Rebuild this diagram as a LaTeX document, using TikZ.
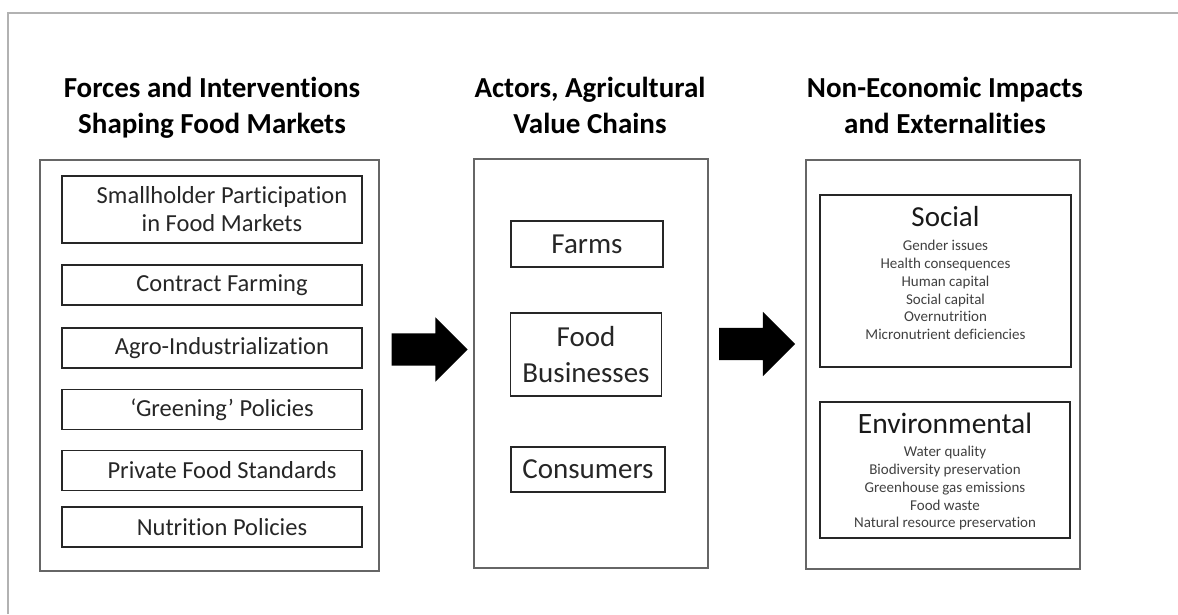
\documentclass[tikz,border=0pt]{standalone}
\usepackage{fontspec}
\setmainfont{Carlito}[Ligatures=NoCommon]
\usetikzlibrary{positioning, calc, shapes.arrows}

\begin{document}
\begin{tikzpicture}[x=1pt, y=-1pt,
		panel/.style={draw=black!60, line width=1.4pt, inner sep=0pt},
		itembox/.style={draw=black!85, line width=1.9pt, inner sep=0pt, text=black!85, align=center},
		heading/.style={align=center, font=\bfseries\fontsize{29}{36}\selectfont, execute at begin node=\strut, execute at end node=\strut},
		bigarrow/.style={single arrow, fill=black, inner xsep=0pt, inner ysep=16pt, minimum height=76pt, minimum width=64pt, single arrow head extend=16pt}
	]
	\useasboundingbox (0,0) rectangle (1178,614);
	\draw[black!30, line width=1.6pt] (8,614) -- (8,13) -- (1178,13);
	
	% headings
	\node[heading] (hforces) at (212,111) {Forces and Interventions\\Shaping Food Markets};
	\node[heading] (hactors) at (590,111) {Actors, Agricultural\\Value Chains};
	\node[heading] (himpacts) at (945,111) {Non-Economic Impacts\\and Externalities};
	
	% forces and interventions
	\node[panel, minimum width=339, minimum height=411] (forces) at (209.5,365.5) {};
	\begin{scope}[every node/.style={itembox, minimum width=300, minimum height=40, font=\fontsize{24.5}{28}\selectfont, execute at begin node=\hspace*{20pt}}]
		\node[minimum height=67] (smallholder) at (212,209.5) {Smallholder Participation\\in Food Markets};
		\node (contract) at (212,285) {Contract Farming};
		\node (agro) at (212,348) {Agro-Industrialization};
		\node (greening) at (212,409.5) {`Greening' Policies};
		\node (standards) at (212,470.5) {Private Food Standards};
		\node (nutrition) at (212,527) {Nutrition Policies};
	\end{scope}
	
	% actors
	\node[panel, minimum width=234, minimum height=409] (actors) at (591,363.5) {};
	\begin{scope}[every node/.style={itembox, font=\fontsize{29}{36}\selectfont}]
		\node[minimum width=152, minimum height=46] (farms) at (587,244) {Farms};
		\node[minimum width=151, minimum height=83] (business) at (586,354.5) {Food\\Businesses};
		\node[minimum width=154, minimum height=45] (consumers) at (588,469.5) {Consumers};
	\end{scope}
	
	% impacts
	\node[panel, minimum width=274, minimum height=409] (impacts) at (943,364.5) {};
	\node[itembox, minimum width=251, minimum height=172] (social) at (945.5,281) {};
	\node[anchor=base, font=\fontsize{29}{30}\selectfont, text=black!90] (socialt) at ($(social.north)+(0,32)$) {Social};
	\node[below=7pt of socialt, align=center, text=black!75, font=\fontsize{15}{17.8}\selectfont] (socialitems) {Gender issues\\Health consequences\\Human capital\\Social capital\\Overnutrition\\Micronutrient deficiencies};
	\node[itembox, minimum width=250, minimum height=136] (environ) at (945,470) {};
	\node[anchor=base, font=\fontsize{29.5}{30}\selectfont, text=black!90] (environt) at ($(environ.north)+(0,32)$) {Environmental};
	\node[below=6pt of environt, align=center, text=black!75, font=\fontsize{15}{17.8}\selectfont] (environitems) {Water quality\\Biodiversity preservation\\Greenhouse gas emissions\\Food waste\\Natural resource preservation};
	
	% arrows
	\node[bigarrow] (arrowa) at ($(forces.east)!0.5!(actors.west)+(-5,-15)$) {};
	\node[bigarrow] (arrowb) at ($(actors.east)!0.5!(impacts.west)+(-8,-20)$) {};
\end{tikzpicture}
\end{document}
